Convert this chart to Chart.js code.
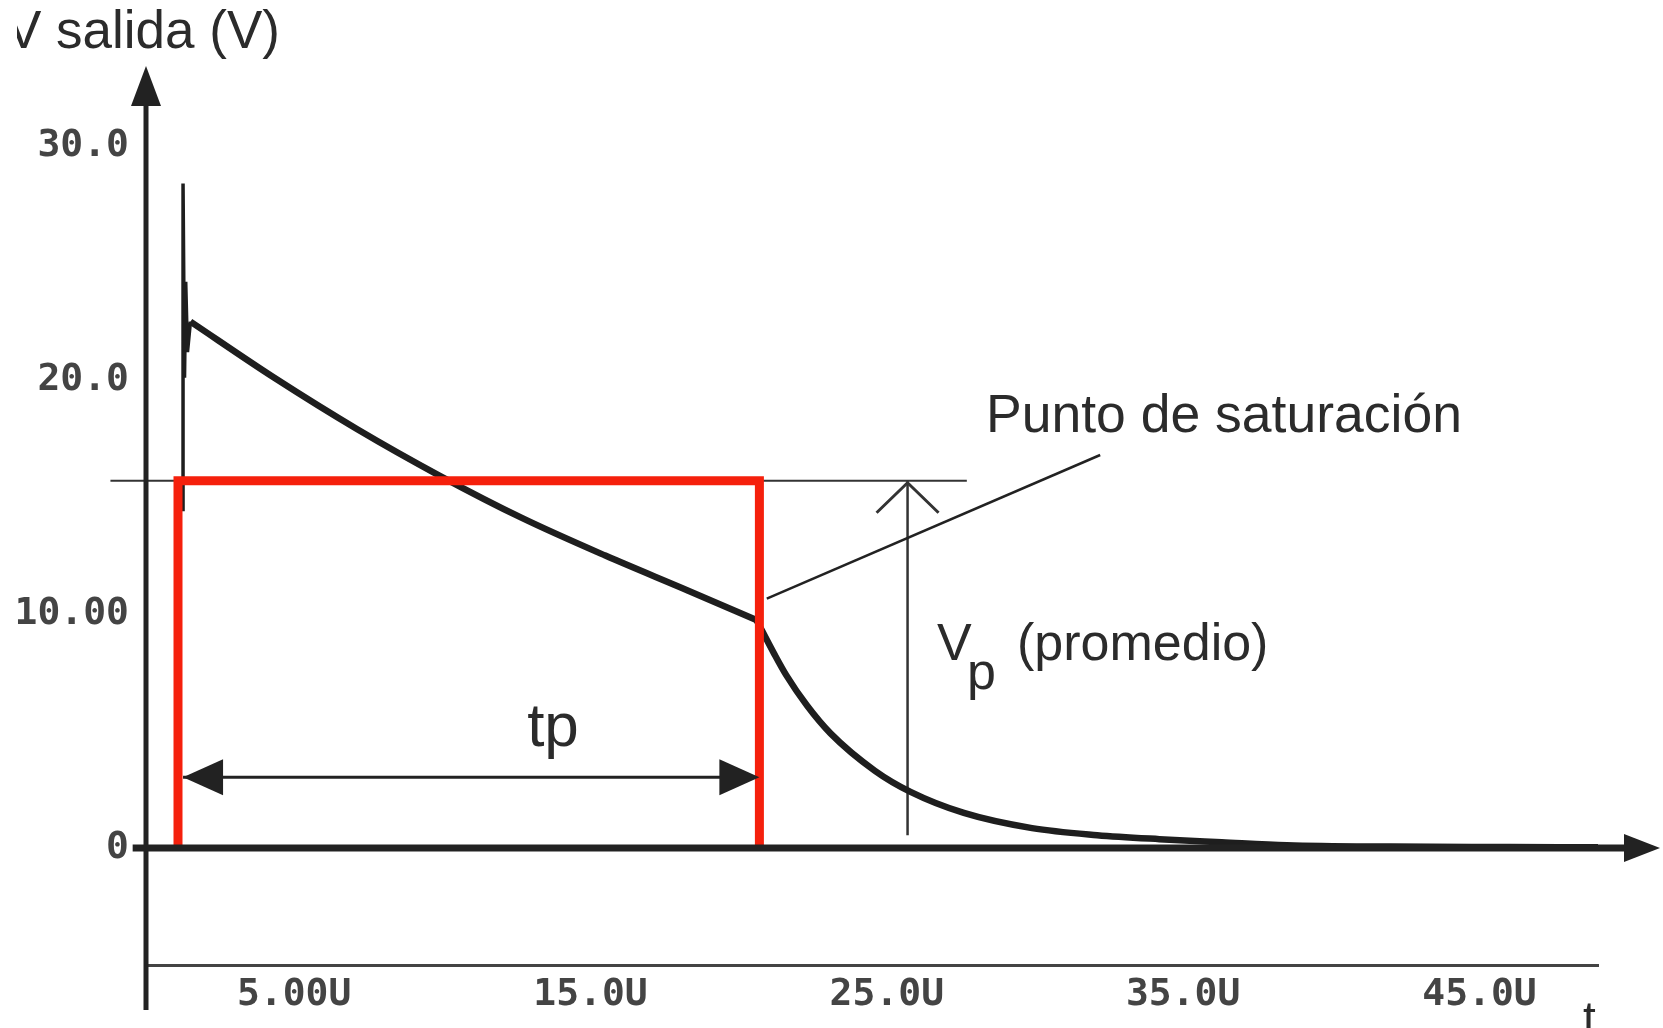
<!DOCTYPE html>
<html>
  <head>
    <title>V salida (V)</title>
    <script src="https://cdn.jsdelivr.net/npm/chart.js"></script>
    <style>
      body {
        margin: 0;
        background: #fff;
      }
      #wrap {
        width: 1663px;
        height: 1028px;
        position: relative;
      }
    </style>
  </head>
  <body>
    <div id="wrap"><canvas id="chart"></canvas></div>

    <script>
      // tiempo en us, tension en V
      // tramo de conduccion, hasta el punto de saturacion
      const flatT = [1.5, 4.33, 7.13, 9.93, 12.7, 15.5, 18.3, 20.6];
      const flatV = [22.5, 20.1, 17.9, 15.9, 14.1, 12.5, 11.0, 9.75];
      // tramo de descarga
      const decayT = [20.6, 21.2, 21.6, 22.3, 23.1, 24.6, 25.8, 27.6, 29.9, 32.1, 34.2, 36.3, 38.5, 42, 46, 49];
      const decayV = [9.75, 8.3, 7.4, 6.1, 4.9, 3.3, 2.4, 1.5, 0.85, 0.55, 0.38, 0.25, 0.12, 0.06, 0.04, 0.03];

      // pico inicial
      const spikeT = [1.25, 1.25, 1.3, 1.34, 1.4, 1.5];
      const spikeV = [14.4, 28.4, 20.1, 24.2, 21.2, 22.5];

      // rectangulo equivalente (rojo)
      const rectT = [1.08, 1.08, 20.7, 20.7];
      const rectV = [0, 15.7, 15.7, 0];

      // lineas de anotacion
      const levelT = [-1.2, 27.7];
      const levelV = [15.7, 15.7];
      const leaderT = [20.95, 32.2];
      const leaderV = [10.66, 16.8];
      const vpT = [25.7, 25.7];
      const vpV = [0.55, 15.7];
      const tpT = [1.25, 20.7];
      const tpV = [3.03, 3.03];
      const zeroT = [-0.45, 50.1];
      const zeroV = [0, 0];

      const xTicks = [5, 15, 25, 35, 45];
      const xTickLabels = ["5.00U", "15.0U", "25.0U", "35.0U", "45.0U"];
      const yTicks = [0, 10, 20, 30];
      const yTickLabels = ["0", "10.00", "20.0", "30.0"];

      const pts = (xs, ys) => xs.map((x, i) => ({ x: x, y: ys[i] }));
      const TEXT = "#2b2b2b";
      const AXIS = "#222";
      const RED = "#f5200c";

      function line(data, color, width, order, extra) {
        return Object.assign(
          {
            data: data,
            borderColor: color,
            borderWidth: width,
            pointRadius: 0,
            tension: 0,
            fill: false,
            clip: false,
            order: order,
          },
          extra || {}
        );
      }

      function arrowHead(ctx, tipX, tipY, dx, dy, len, half) {
        // triangulo relleno apuntando en (dx, dy)
        const bx = tipX - dx * len;
        const by = tipY - dy * len;
        ctx.beginPath();
        ctx.moveTo(tipX, tipY);
        ctx.lineTo(bx - dy * half, by + dx * half);
        ctx.lineTo(bx + dy * half, by - dx * half);
        ctx.closePath();
        ctx.fill();
      }

      const annotations = {
        id: "annotations",
        afterDraw(chart) {
          const ctx = chart.ctx;
          const xs = chart.scales.x;
          const ys = chart.scales.y;
          const px = (v) => xs.getPixelForValue(v);
          const py = (v) => ys.getPixelForValue(v);
          ctx.save();

          // eje vertical con flecha
          const x0 = px(0);
          ctx.strokeStyle = AXIS;
          ctx.fillStyle = AXIS;
          ctx.lineWidth = 5;
          ctx.beginPath();
          ctx.moveTo(x0, 1010);
          ctx.lineTo(x0, 100);
          ctx.stroke();
          arrowHead(ctx, x0, 66, 0, -1, 40, 15);

          // flecha del eje cero
          arrowHead(ctx, 1660, py(0), 1, 0, 36, 14);

          // flechas de tp
          const ty = py(tpV[0]);
          arrowHead(ctx, px(tpT[0]), ty, -1, 0, 40, 18);
          arrowHead(ctx, px(tpT[1]), ty, 1, 0, 40, 18);

          // punta abierta de Vp
          const vx = px(vpT[1]);
          const vy = py(vpV[1]);
          ctx.lineWidth = 3;
          ctx.strokeStyle = "#333";
          ctx.beginPath();
          ctx.moveTo(vx - 31, vy + 32);
          ctx.lineTo(vx, vy + 2);
          ctx.lineTo(vx + 31, vy + 32);
          ctx.stroke();

          // textos
          ctx.fillStyle = TEXT;
          ctx.textBaseline = "alphabetic";
          ctx.textAlign = "left";
          ctx.font = '53.5px "Liberation Sans", Arial, sans-serif';
          ctx.fillText("Punto de saturación", 986, 432);
          ctx.font = '52px "Liberation Sans", Arial, sans-serif';
          ctx.fillText("V", 937, 660);
          ctx.fillText("p", 967, 689);
          ctx.fillText("(promedio)", 1017, 660);

          ctx.textAlign = "center";
          ctx.font = '62px "Liberation Sans", Arial, sans-serif';
          ctx.fillText("tp", 553, 746);

          ctx.textAlign = "left";
          ctx.font = '46px "Liberation Sans", Arial, sans-serif';
          ctx.fillText("t", 1583, 1034);

          // titulo del eje, recortado a la izquierda como en el original
          ctx.save();
          ctx.beginPath();
          ctx.rect(17, 0, 600, 80);
          ctx.clip();
          ctx.font = '53px "Liberation Sans", Arial, sans-serif';
          ctx.fillText("V salida (V)", 6, 48);
          ctx.restore();

          ctx.restore();
        },
      };

      new Chart(document.getElementById("chart"), {
        type: "line",
        data: {
          datasets: [
            line(pts(zeroT, zeroV), AXIS, 7, 0),
            line(pts(rectT, rectV), RED, 9, 1, { borderJoinStyle: "miter" }),
            line(pts(flatT, flatV), "#1e1e1e", 6.5, 2, {
              cubicInterpolationMode: "monotone",
            }),
            line(pts(decayT, decayV), "#1e1e1e", 6.5, 2, {
              cubicInterpolationMode: "monotone",
            }),
            line(pts(spikeT, spikeV), "#1e1e1e", 3.5, 3),
            line(pts(levelT, levelV), "#333", 2, 4),
            line(pts(leaderT, leaderV), "#222", 2.5, 4),
            line(pts(vpT, vpV), "#333", 2.5, 4),
            line(pts(tpT, tpV), "#222", 3, 4),
          ],
        },
        options: {
          responsive: true,
          maintainAspectRatio: false,
          animation: false,
          layout: { padding: { top: 76, right: 65, left: 0, bottom: 0 } },
          plugins: {
            legend: { display: false },
            tooltip: { enabled: false },
          },
          scales: {
            x: {
              type: "linear",
              min: 0,
              max: 49,
              grid: { display: false, drawTicks: false },
              border: { display: true, color: "#444", width: 3 },
              afterFit: (scale) => {
                scale.height = 63;
              },
              afterBuildTicks: (scale) => {
                scale.ticks = xTicks.map((v) => ({ value: v }));
              },
              ticks: {
                padding: 7,
                autoSkip: false,
                maxRotation: 0,
                color: "#444",
                font: { family: "'DejaVu Sans Mono', monospace", size: 38, weight: "bold" },
                callback: (v) => xTickLabels[xTicks.indexOf(v)],
              },
            },
            y: {
              type: "linear",
              min: -5,
              max: 33,
              grid: { display: false, drawTicks: false },
              border: { display: false },
              afterFit: (scale) => {
                scale.width = 146;
              },
              afterBuildTicks: (scale) => {
                scale.ticks = yTicks.map((v) => ({ value: v }));
              },
              ticks: {
                padding: 17,
                autoSkip: false,
                color: "#444",
                font: { family: "'DejaVu Sans Mono', monospace", size: 38, weight: "bold" },
                callback: (v) => yTickLabels[yTicks.indexOf(v)],
              },
            },
          },
        },
        plugins: [annotations],
      });
    </script>
  </body>
</html>
